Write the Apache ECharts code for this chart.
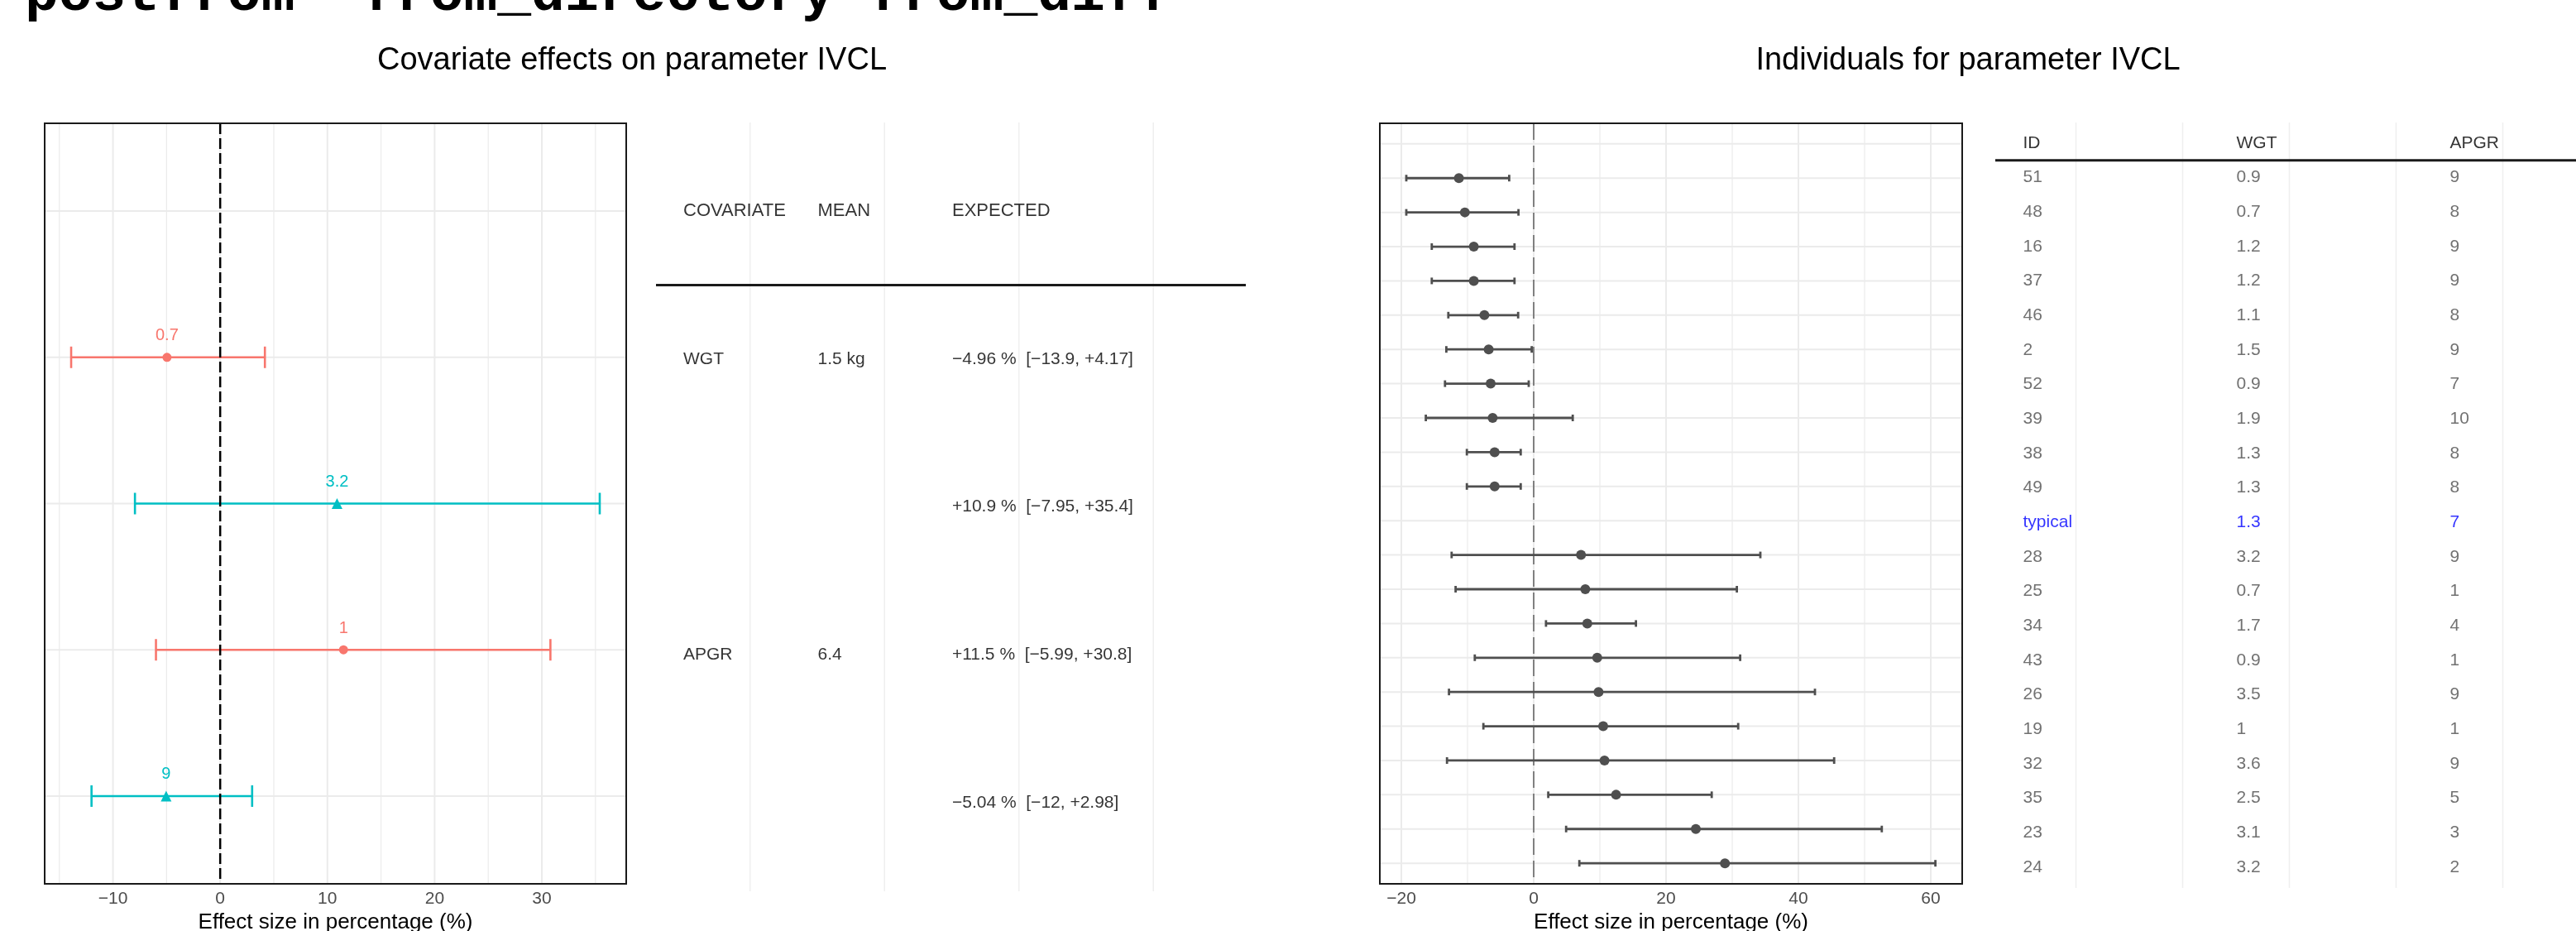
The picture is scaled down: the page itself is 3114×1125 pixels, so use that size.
<!DOCTYPE html>
<html><head><meta charset="utf-8">
<script src="https://cdn.jsdelivr.net/npm/echarts@6/dist/echarts.min.js"></script>
<style>html,body{margin:0;padding:0;background:#fff}#c{width:3114px;height:1125px}</style>
</head><body><div id="c"></div>
<script>
// ---------- left panel: covariate effects (rows top to bottom) ----------
const covRow     = ['WGT', 'WGT', 'APGR', 'APGR'];
const refValue   = ['0.7', '3.2', '1', '9'];
const refGroup   = ['low', 'high', 'low', 'high'];
const effect     = [-4.96, 10.9, 11.5, -5.04];
const effectLow  = [-13.9, -7.95, -5.99, -12];
const effectHigh = [4.17, 35.4, 30.8, 2.98];
const covariates = ['WGT', 'APGR'];
const covMean    = ['1.5 kg', '6.4'];
const leftHeader = ['COVARIATE', 'MEAN', 'EXPECTED'];
const leftTicks  = [-10, 0, 10, 20, 30];
const leftMinor  = [-15, -5, 5, 15, 25, 35];

// ---------- right panel: individuals (rows top to bottom) ----------
const indHeader = ['ID', 'WGT', 'APGR'];
const indId   = ['51','48','16','37','46','2','52','39','38','49','typical','28','25','34','43','26','19','32','35','23','24'];
const indWgt  = ['0.9','0.7','1.2','1.2','1.1','1.5','0.9','1.9','1.3','1.3','1.3','3.2','0.7','1.7','0.9','3.5','1','3.6','2.5','3.1','3.2'];
const indApgr = ['9','8','9','9','8','9','7','10','8','8','7','9','1','4','1','9','1','9','5','3','2'];
const indEff  = [-11.3, -10.4, -9.05, -9.05, -7.45, -6.8, -6.5, -6.2, -5.9, -5.9, null, 7.15, 7.8, 8.1, 9.6, 9.8, 10.5, 10.7, 12.45, 24.5, 28.9];
const indLow  = [-19.25, -19.25, -15.4, -15.4, -12.9, -13.2, -13.4, -16.3, -10.1, -10.1, null, -12.4, -11.8, 1.86, -8.9, -12.8, -7.6, -13.1, 2.2, 4.9, 6.9];
const indHigh = [-3.7, -2.3, -2.9, -2.9, -2.35, -0.3, -0.75, 5.9, -1.96, -1.96, null, 34.25, 30.7, 15.45, 31.2, 42.5, 30.9, 45.4, 26.9, 52.6, 60.7];
const rightTicks = [-20, 0, 20, 40, 60];
const rightMinor = [-10, 10, 30, 50];

// ---------- styling ----------
const RED = '#F8766D', CYAN = '#00BFC4', DARK = '#4F4F4F', GRID = '#EBEBEB';
const FONT = '"Liberation Sans", Arial, Helvetica, sans-serif';
const MINUS = '\u2212';
const fmtTick = v => String(v).replace('-', MINUS);
function sig(v) { const s = String(Number(v.toPrecision(3))); return v < 0 ? MINUS + s.slice(1) : '+' + s; }

const nL = covRow.length, nR = indId.length;
const lvlL = i => nL - i;   // header at nL+1
const lvlR = i => nR - i;   // header at nR+1

// reference lines (vertical: orient 0, horizontal: orient 1) drawn through the axes' scales
function refLines(ax, xs, ys, width, color, dash, z, xMin, yMin) {
  const data = xs.map(v => [v, 0]).concat(ys.map(v => [v, 1]));
  return {
    type: 'custom', xAxisIndex: ax, yAxisIndex: ax, z: z, silent: true, clip: false,
    encode: { x: -1, y: -1 }, data: data,
    renderItem(params, api) {
      const cs = params.coordSys;
      const v = api.value(0), o = api.value(1);
      const st = { stroke: color, lineWidth: width, lineDash: dash || null, fill: null };
      if (o === 0) {
        const px = api.coord([v, yMin])[0];
        return { type: 'line', shape: { x1: px, y1: cs.y, x2: px, y2: cs.y + cs.height }, style: st };
      }
      const py = api.coord([xMin, v])[1];
      return { type: 'line', shape: { x1: cs.x, y1: py, x2: cs.x + cs.width, y2: py }, style: st };
    }
  };
}
function errorBars(ax, data, color, capHalf, width, z) {
  return {
    type: 'custom', xAxisIndex: ax, yAxisIndex: ax, z: z, silent: true,
    encode: { x: [0, 1], y: 2 }, data: data,
    renderItem(params, api) {
      const lvl = api.value(2);
      const a = api.coord([api.value(0), lvl]);
      const b = api.coord([api.value(1), lvl]);
      const st = { stroke: color, lineWidth: width };
      return { type: 'group', children: [
        { type: 'line', shape: { x1: a[0], y1: a[1], x2: b[0], y2: b[1] }, style: st },
        { type: 'line', shape: { x1: a[0], y1: a[1] - capHalf, x2: a[0], y2: a[1] + capHalf }, style: st },
        { type: 'line', shape: { x1: b[0], y1: b[1] - capHalf, x2: b[0], y2: b[1] + capHalf }, style: st }
      ]};
    }
  };
}
function textSeries(ax, items) {
  return {
    type: 'scatter', xAxisIndex: ax, yAxisIndex: ax, symbol: 'circle', symbolSize: 1, silent: true, z: 5,
    itemStyle: { color: 'rgba(0,0,0,0)' },
    label: { show: true, position: 'right', distance: 0, formatter: p => p.name, fontFamily: FONT, fontSize: 21, color: '#000' },
    emphasis: { disabled: true },
    data: items
  };
}

// axis extents
const LX = [-16.37, 37.87], RX = [-23.25, 64.75];
const LTX = [-0.2, 4.188], RTX = [-0.256, 5.186];
const LY = [0.4, nL + 1.6], RY = [0.4, nR + 1.6];

// ---------- left plot series ----------
const groups = [{ key: 'low', color: RED, symbol: 'circle', size: 11 }, { key: 'high', color: CYAN, symbol: 'triangle', size: 13 }];
const leftSeries = [];
leftSeries.push(refLines(0, leftMinor, [], 1.2, GRID, null, 1, LX[0], LY[0]));
leftSeries.push(refLines(0, leftTicks, Array.from({ length: nL + 1 }, (_, i) => i + 1), 2, GRID, null, 1, LX[0], LY[0]));
groups.forEach(g => {
  const idx = covRow.map((_, i) => i).filter(i => refGroup[i] === g.key);
  leftSeries.push(errorBars(0, idx.map(i => [effectLow[i], effectHigh[i], lvlL(i)]), g.color, 13, 2.6, 3));
});
leftSeries.push(refLines(0, [0], [], 2.5, '#000', [13, 5], 4, LX[0], LY[0]));
groups.forEach(g => {
  const idx = covRow.map((_, i) => i).filter(i => refGroup[i] === g.key);
  leftSeries.push({
    type: 'scatter', xAxisIndex: 0, yAxisIndex: 0, z: 6, silent: true,
    symbol: g.symbol, symbolSize: g.size, itemStyle: { color: g.color, opacity: 1 },
    label: { show: true, position: 'inside', offset: [0, -26], formatter: p => p.name, color: g.color, fontFamily: FONT, fontSize: 20 },
    emphasis: { disabled: true },
    data: idx.map(i => ({ name: refValue[i], value: [effect[i], lvlL(i)] }))
  });
});

// ---------- left table ----------
const leftItems = leftHeader.map((h, c) => ({ name: h, value: [c, nL + 1], label: { fontSize: 22 } }));
covRow.forEach((cv, i) => {
  if (i === 0 || covRow[i - 1] !== cv) {
    const k = covariates.indexOf(cv);
    leftItems.push({ name: cv, value: [0, lvlL(i)] });
    leftItems.push({ name: covMean[k], value: [1, lvlL(i)] });
  }
  leftItems.push({ name: sig(effect[i]) + ' %  [' + sig(effectLow[i]) + ', ' + sig(effectHigh[i]) + ']', value: [2, lvlL(i)] });
});
const leftTableSeries = [
  refLines(1, [0.5, 1.5, 2.5, 3.5], [], 1.5, '#EFEFEF', null, 1, LTX[0], LY[0]),
  refLines(1, [], [nL + 0.5], 3, '#1a1a1a', null, 2, LTX[0], LY[0]),
  textSeries(1, leftItems)
];

// ---------- right plot ----------
const rIdx = indId.map((_, i) => i).filter(i => indEff[i] !== null);
const rightSeries = [
  refLines(2, rightMinor, [], 1.2, GRID, null, 1, RX[0], RY[0]),
  refLines(2, rightTicks, Array.from({ length: nR + 1 }, (_, i) => i + 1), 2, GRID, null, 1, RX[0], RY[0]),
  refLines(2, [0], [], 2, '#808080', [20, 7], 2, RX[0], RY[0]),
  errorBars(2, rIdx.map(i => [indLow[i], indHigh[i], lvlR(i)]), DARK, 4, 2.8, 3),
  {
    type: 'scatter', xAxisIndex: 2, yAxisIndex: 2, z: 6, silent: true,
    symbol: 'circle', symbolSize: 12, itemStyle: { color: DARK, opacity: 1 },
    emphasis: { disabled: true },
    data: rIdx.map(i => [indEff[i], lvlR(i)])
  }
];

// ---------- right table ----------
const rightItems = indHeader.map((h, c) => ({ name: h, value: [c * 2, nR + 1], label: { fontSize: 21, color: '#000' } }));
indId.forEach((id, i) => {
  const col = id === 'typical' ? '#0000FF' : '#4D4D4D';
  [id, indWgt[i], indApgr[i]].forEach((t, c) => rightItems.push({ name: t, value: [c * 2, lvlR(i)], label: { color: col } }));
});
const rightTableSeries = [
  refLines(3, [0.5, 1.5, 2.5, 3.5, 4.5], [], 1.5, '#EFEFEF', null, 1, RTX[0], RY[0]),
  refLines(3, [], [nR + 0.5], 3, '#1a1a1a', null, 2, RTX[0], RY[0]),
  textSeries(3, rightItems)
];

const valueAxisLabel = ticks => ({
  customValues: ticks, formatter: fmtTick, fontFamily: FONT, fontSize: 21, color: '#4D4D4D', margin: 8
});
const hiddenAxis = (ext, ax) => ({ type: 'value', gridIndex: ax, min: ext[0], max: ext[1], show: false, splitLine: { show: false } });
const gridBase = { outerBoundsMode: 'none', containLabel: false };

const option = {
  animation: false,
  backgroundColor: '#fff',
  textStyle: { fontFamily: FONT },
  grid: [
    Object.assign({ left: 54, top: 149, width: 703, height: 919, show: true, borderColor: '#1a1a1a', borderWidth: 2, backgroundColor: 'rgba(0,0,0,0)', z: 10 }, gridBase),
    Object.assign({ left: 793, top: 148, width: 713, height: 929 }, gridBase),
    Object.assign({ left: 1668, top: 149, width: 704, height: 919, show: true, borderColor: '#1a1a1a', borderWidth: 2, backgroundColor: 'rgba(0,0,0,0)', z: 10 }, gridBase),
    Object.assign({ left: 2412, top: 148, width: 702, height: 925 }, gridBase)
  ],
  xAxis: [
    { type: 'value', gridIndex: 0, min: LX[0], max: LX[1], axisLine: { show: false }, axisTick: { show: false }, splitLine: { show: false },
      axisLabel: valueAxisLabel(leftTicks),
      name: 'Effect size in percentage (%)', nameLocation: 'middle', nameGap: 34, nameMoveOverlap: false,
      nameTextStyle: { fontFamily: FONT, fontSize: 26, color: '#000' } },
    hiddenAxis(LTX, 1),
    { type: 'value', gridIndex: 2, min: RX[0], max: RX[1], axisLine: { show: false }, axisTick: { show: false }, splitLine: { show: false },
      axisLabel: valueAxisLabel(rightTicks),
      name: 'Effect size in percentage (%)', nameLocation: 'middle', nameGap: 34, nameMoveOverlap: false,
      nameTextStyle: { fontFamily: FONT, fontSize: 26, color: '#000' } },
    hiddenAxis(RTX, 3)
  ],
  yAxis: [hiddenAxis(LY, 0), hiddenAxis(LY, 1), hiddenAxis(RY, 2), hiddenAxis(RY, 3)],
  graphic: [
    { type: 'text', x: 30, y: -5, z: 100,
      style: { text: 'postfrom  from_directory from_diff', fill: '#000', font: 'bold 68px "Liberation Mono", "DejaVu Sans Mono", monospace', align: 'left', verticalAlign: 'middle', textAlign: 'left', textVerticalAlign: 'middle' } },
    { type: 'text', x: 764, y: 74, z: 100,
      style: { text: 'Covariate effects on parameter IVCL', fill: '#000', font: '38px ' + FONT, align: 'center', verticalAlign: 'middle', textAlign: 'center', textVerticalAlign: 'middle' } },
    { type: 'text', x: 2379, y: 74, z: 100,
      style: { text: 'Individuals for parameter IVCL', fill: '#000', font: '38px ' + FONT, align: 'center', verticalAlign: 'middle', textAlign: 'center', textVerticalAlign: 'middle' } }
  ],
  series: [].concat(leftSeries, leftTableSeries, rightSeries, rightTableSeries)
};

const chart = echarts.init(document.getElementById('c'), null, { renderer: 'canvas' });
chart.setOption(option);
</script>
</body></html>
